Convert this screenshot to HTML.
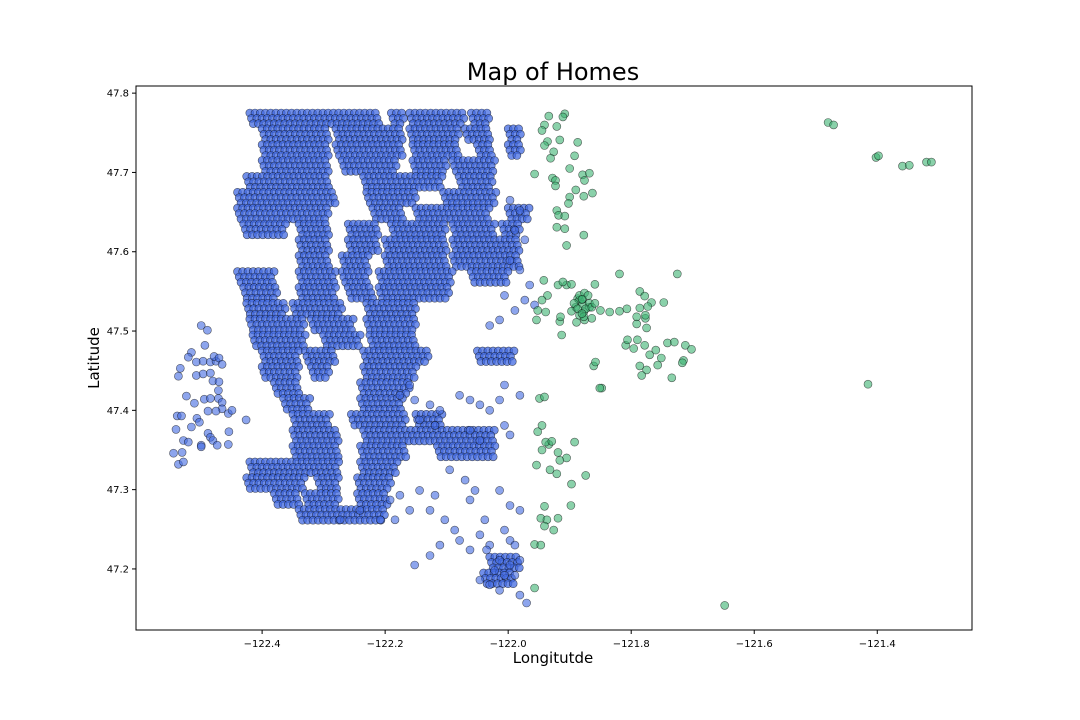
<!DOCTYPE html>
<html><head><meta charset="utf-8"><style>
body{margin:0;background:#fff;}
svg{display:block;font-family:"DejaVu Sans","Liberation Sans",sans-serif;}
</style></head><body>
<svg id="chart" width="1080" height="720" viewBox="0 0 1080 720" xmlns="http://www.w3.org/2000/svg">
<rect width="1080" height="720" fill="#fff"/>
<text x="553" y="80" font-size="24" text-anchor="middle" fill="#000">Map of Homes</text>
<g id="marks"></g>
<g id="axes"></g>
<text x="553" y="663" font-size="15" text-anchor="middle">Longitutde</text>
<text x="99" y="358" font-size="15" text-anchor="middle" transform="rotate(-90 99 358)">Latitude</text>
</svg>
<script>
const xTicks=[-122.4,-122.2,-122.0,-121.8,-121.6,-121.4];
const xTickLabels=["\u2212122.4","\u2212122.2","\u2212122.0","\u2212121.8","\u2212121.6","\u2212121.4"];
const yTicks=[47.2,47.3,47.4,47.5,47.6,47.7,47.8];
const yTickLabels=["47.2","47.3","47.4","47.5","47.6","47.7","47.8"];
// dense blue regions: [lat, [lonStart, lonEnd, ...]]
const blueRows=[
[47.775,[-122.42,-122.21,-122.19,-122.17,-122.16,-122.07,-122.06,-122.03]],
[47.755,[-122.40,-122.29,-122.28,-122.17,-122.16,-122.08,-122.07,-122.03,-122.0,-121.98]],
[47.735,[-122.40,-122.29,-122.28,-122.17,-122.155,-122.08,-122.05,-122.025,-122.0,-121.98]],
[47.715,[-122.40,-122.29,-122.27,-122.18,-122.155,-122.10,-122.09,-122.02]],
[47.695,[-122.425,-122.29,-122.235,-122.105,-122.08,-122.025]],
[47.675,[-122.44,-122.28,-122.23,-122.15,-122.105,-122.02]],
[47.655,[-122.44,-122.29,-122.22,-122.17,-122.15,-122.03,-122.0,-121.965]],
[47.635,[-122.43,-122.36,-122.34,-122.29,-122.26,-122.21,-122.19,-122.10,-122.09,-122.02,-122.01,-121.98]],
[47.615,[-122.34,-122.29,-122.26,-122.21,-122.20,-122.10,-122.09,-121.98]],
[47.595,[-122.34,-122.29,-122.27,-122.225,-122.20,-122.10,-122.09,-121.98]],
[47.575,[-122.44,-122.38,-122.34,-122.28,-122.27,-122.225,-122.21,-122.09,-122.06,-122.0]],
[47.555,[-122.43,-122.375,-122.34,-122.28,-122.26,-122.22,-122.21,-122.095]],
[47.535,[-122.425,-122.36,-122.35,-122.27,-122.23,-122.15]],
[47.515,[-122.42,-122.33,-122.32,-122.25,-122.23,-122.15]],
[47.495,[-122.415,-122.33,-122.30,-122.24,-122.225,-122.15]],
[47.475,[-122.40,-122.34,-122.33,-122.28,-122.235,-122.13,-122.05,-121.99]],
[47.455,[-122.40,-122.34,-122.32,-122.29,-122.235,-122.15]],
[47.435,[-122.38,-122.34,-122.24,-122.16]],
[47.415,[-122.365,-122.32,-122.24,-122.17]],
[47.395,[-122.35,-122.29,-122.255,-122.165,-122.15,-122.105]],
[47.375,[-122.35,-122.275,-122.235,-122.02]],
[47.355,[-122.35,-122.275,-122.24,-122.165,-122.115,-122.02]],
[47.335,[-122.42,-122.275,-122.24,-122.18]],
[47.315,[-122.425,-122.33,-122.31,-122.275,-122.245,-122.19]],
[47.295,[-122.38,-122.34,-122.33,-122.275,-122.245,-122.195]],
[47.275,[-122.34,-122.20]],
[47.215,[-122.03,-121.98]],
[47.195,[-122.04,-121.99]]
];
const blueLon=[-122.499,-122.489,-122.493,-122.515,-122.520,-122.507,-122.496,-122.484,-122.475,-122.478,-122.470,-122.465,-122.533,-122.536,-122.507,-122.496,-122.484,-122.480,-122.470,-122.471,-122.523,-122.510,-122.494,-122.484,-122.471,-122.465,-122.465,-122.488,-122.475,-122.538,-122.531,-122.455,-122.449,-122.426,-122.506,-122.515,-122.502,-122.540,-122.488,-122.484,-122.480,-122.473,-122.499,-122.528,-122.520,-122.454,-122.455,-122.544,-122.530,-122.536,-122.528,-122.499,
-122.176,-122.160,-122.152,-122.127,-122.111,-122.144,-122.119,-122.079,-122.062,-122.046,-122.030,-122.014,-122.006,-121.981,-122.062,-122.046,-122.006,-121.997,-122.095,-122.070,-122.054,-122.192,-122.176,-122.160,-122.184,-122.127,-122.103,-122.087,-122.062,-122.038,-122.014,-122.046,-122.030,-122.014,-121.997,-121.981,-122.035,-122.022,-122.006,-121.989,-122.046,-122.030,-122.014,-121.981,-121.970,-122.079,-122.062,-122.111,-122.152,-122.127,-121.997,-121.981,-122.006,-121.997,-121.989,-122.273,-122.241,-122.208,-122.144,-122.119,
-121.997,-121.981,-121.989,-121.973,-121.997,-121.981,-121.965,-121.973,-121.957,-122.006,-121.989,-122.014,-122.030];
const blueLat=[47.507,47.501,47.482,47.473,47.467,47.461,47.462,47.461,47.462,47.468,47.466,47.458,47.453,47.443,47.444,47.446,47.447,47.437,47.436,47.425,47.418,47.409,47.414,47.415,47.415,47.410,47.402,47.399,47.399,47.393,47.393,47.396,47.400,47.388,47.390,47.379,47.385,47.376,47.371,47.366,47.362,47.356,47.356,47.362,47.360,47.373,47.357,47.346,47.347,47.332,47.335,47.354,
47.419,47.432,47.413,47.407,47.400,47.388,47.381,47.419,47.413,47.407,47.400,47.413,47.432,47.419,47.375,47.362,47.381,47.369,47.325,47.312,47.299,47.287,47.293,47.274,47.262,47.274,47.262,47.249,47.287,47.262,47.299,47.243,47.230,47.211,47.205,47.211,47.224,47.198,47.192,47.192,47.186,47.180,47.173,47.167,47.157,47.236,47.224,47.230,47.205,47.217,47.280,47.274,47.249,47.236,47.230,47.262,47.274,47.262,47.299,47.293,
47.665,47.652,47.627,47.615,47.589,47.577,47.558,47.539,47.533,47.545,47.526,47.514,47.507];
const greenLon=[-121.934,-121.908,-121.911,-121.941,-121.945,-121.921,-121.916,-121.936,-121.941,-121.887,-121.892,-121.926,-121.931,-121.900,-121.957,-121.928,-121.923,-121.923,-121.879,-121.868,-121.876,-121.890,-121.900,-121.902,-121.877,-121.863,-121.921,-121.918,-121.908,-121.921,-121.908,-121.877,-121.905,-121.819,-121.942,-121.919,-121.905,-121.911,-121.897,-121.859,-121.887,-121.884,-121.879,-121.868,-121.877,-121.864,-121.850,-121.835,-121.819,-121.807,-121.786,-121.778,-121.767,-121.773,-121.747,-121.791,-121.775,-121.939,-121.936,-121.945,-121.916,-121.913,-121.952,-121.954,-121.915,-121.889,-121.876,-121.809,-121.806,-121.796,-121.790,-121.778,-121.770,-121.760,-121.751,-121.741,-121.730,-121.712,-121.702,-121.775,-121.783,-121.786,-121.757,-121.715,-121.734,-121.717,-121.791,-121.848,-121.777,-121.786,-121.777,
-121.884,-121.879,-121.876,-121.868,-121.874,-121.890,-121.897,-121.884,-121.877,-121.864,-121.859,-121.870,-121.880,-121.893,-121.887,-121.880,
-121.480,-121.471,-121.402,-121.398,-121.359,-121.348,-121.320,-121.312,-121.415,-121.648,-121.725,
-121.949,-121.941,-121.945,-121.952,-121.934,-121.939,-121.945,-121.919,-121.905,-121.916,-121.954,-121.932,-121.921,-121.897,-121.874,-121.898,-121.941,-121.947,-121.937,-121.941,-121.919,-121.957,-121.947,-121.926,-121.957,-121.851,-121.861,-121.858,-121.929,-121.892];
const greenLat=[47.771,47.774,47.770,47.760,47.753,47.758,47.741,47.739,47.734,47.738,47.721,47.726,47.718,47.705,47.698,47.693,47.690,47.683,47.697,47.699,47.690,47.678,47.669,47.661,47.670,47.674,47.652,47.646,47.645,47.631,47.629,47.621,47.608,47.572,47.564,47.558,47.558,47.562,47.559,47.559,47.541,47.539,47.534,47.530,47.524,47.516,47.526,47.524,47.525,47.528,47.550,47.544,47.536,47.531,47.536,47.509,47.504,47.524,47.545,47.539,47.512,47.495,47.526,47.514,47.518,47.511,47.514,47.482,47.489,47.478,47.489,47.482,47.470,47.476,47.466,47.485,47.486,47.482,47.477,47.451,47.444,47.456,47.457,47.463,47.441,47.460,47.518,47.428,47.516,47.529,47.520,
47.545,47.540,47.548,47.535,47.528,47.530,47.525,47.520,47.518,47.530,47.535,47.545,47.540,47.535,47.528,47.522,
47.763,47.760,47.719,47.721,47.708,47.709,47.713,47.713,47.433,47.154,47.572,
47.415,47.417,47.381,47.373,47.357,47.360,47.350,47.347,47.340,47.337,47.331,47.325,47.320,47.307,47.318,47.280,47.279,47.264,47.262,47.254,47.264,47.231,47.230,47.249,47.176,47.428,47.456,47.461,47.361,47.360];

const X0=-122.605,X1=-121.246,Y0=47.123,Y1=47.809;
const L=136,R=972,T=86,B=630;
function sx(v){return L+(v-X0)/(X1-X0)*(R-L);}
function sy(v){return B-(v-Y0)/(Y1-Y0)*(B-T);}
const NS="http://www.w3.org/2000/svg";
const marks=document.getElementById('marks');
const axes=document.getElementById('axes');
function dot(lon,lat,fill,op,name){
  const c=document.createElementNS(NS,'circle');
  c.setAttribute('cx',sx(lon).toFixed(1));
  c.setAttribute('cy',sy(lat).toFixed(1));
  c.setAttribute('r','4');
  c.setAttribute('fill',fill);
  c.setAttribute('fill-opacity',op);
  c.setAttribute('stroke','#000');
  c.setAttribute('stroke-opacity','0.6');
  c.setAttribute('stroke-width','0.6');
  
  
  marks.appendChild(c);
}
const STEP=0.0085;
const SUB=[0,0.0068,0.0136];
blueRows.forEach(function(row){
  const lat=row[0],segs=row[1];
  for(let s=0;s<segs.length;s+=2){
    for(let k=0;k<SUB.length;k++){
      for(let lon=segs[s]+k*STEP/3;lon<=segs[s+1]+1e-9;lon+=STEP){
        dot(lon,lat-SUB[k],'#4169e1','0.75','blue-point');
      }
    }
  }
});
for(let i=0;i<blueLon.length;i++){dot(blueLon[i],blueLat[i],'#4169e1','0.6','blue-point');}
for(let i=0;i<greenLon.length;i++){dot(greenLon[i],greenLat[i],'#3cb371','0.6','green-point');}

const frame=document.createElementNS(NS,'rect');
frame.setAttribute('x',L);frame.setAttribute('y',T);
frame.setAttribute('width',R-L);frame.setAttribute('height',B-T);
frame.setAttribute('fill','none');frame.setAttribute('stroke','#000');frame.setAttribute('stroke-width','1');


axes.appendChild(frame);
xTicks.forEach(function(v,i){
  const x=sx(v);
  const t=document.createElementNS(NS,'line');
  t.setAttribute('x1',x);t.setAttribute('x2',x);t.setAttribute('y1',B);t.setAttribute('y2',B+4);t.setAttribute('stroke','#000');
  
  
  axes.appendChild(t);
  const tx=document.createElementNS(NS,'text');
  tx.setAttribute('x',x);tx.setAttribute('y',B+17);tx.setAttribute('font-size','10');tx.setAttribute('text-anchor','middle');
  tx.textContent=xTickLabels[i];
  
  
  axes.appendChild(tx);
});
yTicks.forEach(function(v,i){
  const y=sy(v);
  const t=document.createElementNS(NS,'line');
  t.setAttribute('x1',L-4);t.setAttribute('x2',L);t.setAttribute('y1',y);t.setAttribute('y2',y);t.setAttribute('stroke','#000');
  
  
  axes.appendChild(t);
  const tx=document.createElementNS(NS,'text');
  tx.setAttribute('x',L-7);tx.setAttribute('y',y+3.5);tx.setAttribute('font-size','10');tx.setAttribute('text-anchor','end');
  tx.textContent=yTickLabels[i];
  
  
  axes.appendChild(tx);
});
</script>
</body></html>
